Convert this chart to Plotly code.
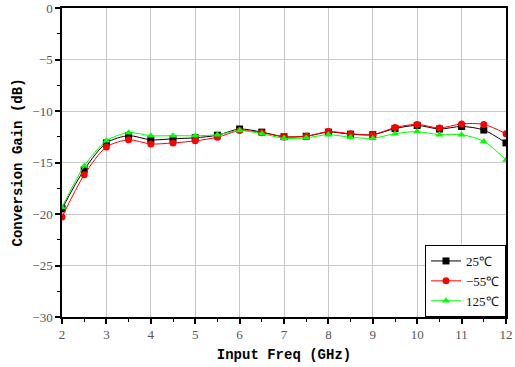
import plotly.graph_objects as go

freq = [2, 2.5, 3, 3.5, 4, 4.5, 5, 5.5, 6, 6.5, 7, 7.5, 8, 8.5, 9, 9.5, 10, 10.5, 11, 11.5, 12]
gain_25 = [-19.5, -15.7, -13.1, -12.4, -12.8, -12.7, -12.6, -12.35, -11.75, -12.05, -12.5, -12.45, -12.05, -12.25, -12.3, -11.7, -11.4, -11.75, -11.5, -11.85, -13.1]
gain_m55 = [-20.3, -16.2, -13.5, -12.8, -13.2, -13.1, -12.9, -12.55, -11.9, -12.1, -12.5, -12.45, -12.0, -12.2, -12.3, -11.6, -11.3, -11.65, -11.25, -11.3, -12.2]
gain_125 = [-19.35, -15.35, -12.9, -12.1, -12.4, -12.4, -12.4, -12.3, -11.9, -12.2, -12.65, -12.6, -12.3, -12.55, -12.65, -12.2, -12.0, -12.3, -12.3, -12.95, -14.75]
names = ["25℃", "−55℃", "125℃"]
colors = ["#000000", "#ff0000", "#00ff00"]
symbols = ["square", "circle", "triangle-up"]

fig = go.Figure()
for y, n, c, s in zip([gain_25, gain_m55, gain_125], names, colors, symbols):
    fig.add_trace(go.Scatter(
        x=freq, y=y, name=n, mode="lines+markers",
        line=dict(color=c, width=1, shape="spline", smoothing=0.8),
        marker=dict(symbol=s, size=7, color=c),
    ))

axis_common = dict(
    showline=True, linecolor="black", linewidth=1.5, mirror=True,
    showgrid=True, gridcolor="#c8c8c8", gridwidth=1,
    ticks="outside", ticklen=5, tickwidth=1.5, tickcolor="black",
    tickfont=dict(family="Liberation Serif", size=13, color="#555555"),
    zeroline=False, automargin=False,
)
title_font = dict(family="Liberation Mono", size=14, color="#000000", weight="bold")
fig.update_xaxes(
    range=[2, 12], dtick=1, tick0=2,
    minor=dict(ticks="outside", ticklen=3, dtick=0.5, tickcolor="black", tickwidth=1.2, showgrid=False),
    title=dict(text="Input Freq (GHz)", font=title_font, standoff=8),
    **axis_common,
)
fig.update_yaxes(
    range=[-30, 0], dtick=5,
    minor=dict(ticks="outside", ticklen=3, dtick=2.5, tickcolor="black", tickwidth=1.2, showgrid=False),
    title=dict(text="Conversion Gain (dB)", font=title_font, standoff=6),
    **axis_common,
)
fig.update_layout(
    width=515, height=367,
    margin=dict(l=62, r=9, t=8, b=50, autoexpand=False),
    paper_bgcolor="white", plot_bgcolor="white",
    legend=dict(
        x=1, y=0, xanchor="right", yanchor="bottom",
        bordercolor="black", borderwidth=1, bgcolor="white",
        font=dict(family="Liberation Serif", size=13, color="#111111"),
        tracegroupgap=0, itemwidth=30,
    ),
    showlegend=True,
)
fig.write_html("out.html")
